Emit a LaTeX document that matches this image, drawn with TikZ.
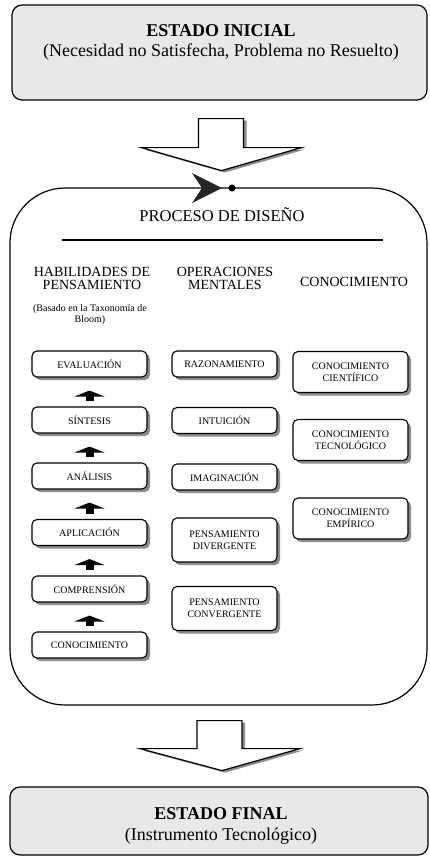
\documentclass[tikz,border=0pt]{standalone}
\usepackage{fontspec}
\setmainfont{Liberation Serif}
\usetikzlibrary{arrows.meta,shadows}

\begin{document}
\begin{tikzpicture}[x=1pt, y=1pt,
  estado/.style={draw, line width=1.2pt, rounded corners=10pt, fill=black!9},
  caja/.style={draw, line width=1.1pt, rounded corners=5pt, fill=white, align=center,
    inner sep=2pt, font=\fontsize{10}{12}\selectfont,
    drop shadow={shadow xshift=3pt, shadow yshift=-3pt, fill=black!45, opacity=1}},
  cajah/.style={caja, minimum width=115pt, minimum height=26pt},
  cajam/.style={caja, minimum width=105pt, minimum height=26pt},
  cajac/.style={caja, minimum width=115pt, minimum height=41pt},
  subir/.style={line width=8pt, -{Triangle[width=30pt,length=6pt]}, shorten <=5pt, shorten >=13pt},
  flecha/.style={draw, line width=1.2pt, fill=white},
  titulo/.style={font=\fontsize{14}{13.5}\selectfont, align=center}]

\useasboundingbox (0,0) rectangle (429,-857);

% estado inicial
\node[estado, minimum width=415pt, minimum height=95pt] (inicial) at (219.5,-52.5) {};
\node[font=\fontsize{18}{20}\selectfont, align=center] (inicial_text) at (221,-42)
  {\textbf{ESTADO INICIAL}\\(Necesidad no Satisfecha, Problema no Resuelto)};

% proceso de diseno
\node[draw, line width=1.2pt, rounded corners=55pt, minimum width=417pt, minimum height=517pt] (proceso) at (218.5,-446.5) {};
\fill[black!85] (192,-173) -- (222,-188) -- (192,-203) -- (202,-188) -- cycle;
\fill (232,-188) circle (3.5);
\node[font=\fontsize{16.5}{18}\selectfont] (proceso_text) at (222,-215) {PROCESO DE DISEÑO};
\draw[line width=1.6pt] (62,-240) -- (383,-240);

% flechas grandes
\fill[black!45, shift={(inicial.south)}, xshift=3pt, yshift=-2pt] (-21,-18) -- (24,-18) -- (24,-47) -- (82,-47) -- (2,-70) -- (-78,-47) -- (-21,-47) -- cycle;
\draw[flecha, shift={(inicial.south)}] (-21,-18) -- (24,-18) -- (24,-47) -- (82,-47) -- (2,-70) -- (-78,-47) -- (-21,-47) -- cycle;
\fill[black!45, shift={(proceso.south)}, xshift=3pt, yshift=-2pt] (-21.5,-15) -- (23.5,-15) -- (23.5,-43) -- (81.5,-43) -- (3.5,-65) -- (-78.5,-43) -- (-21.5,-43) -- cycle;
\draw[flecha, shift={(proceso.south)}] (-21.5,-15) -- (23.5,-15) -- (23.5,-43) -- (81.5,-43) -- (3.5,-65) -- (-78.5,-43) -- (-21.5,-43) -- cycle;

% columnas
\node[titulo] (habilidades) at (92,-278.5) {HABILIDADES DE\\PENSAMIENTO};
\node[titulo] (operaciones) at (225,-278.5) {OPERACIONES\\MENTALES};
\node[titulo] (conocimiento) at (354,-282) {CONOCIMIENTO};
\node[font=\fontsize{10}{11}\selectfont, align=center] (bloom) at (90,-314.5)
  {(Basado en la Taxonomía de\\Bloom)};

% habilidades
\node[cajah] (evaluacion) at (89.5,-364) {EVALUACIÓN};
\node[cajah] (sintesis) at (89.5,-420) {SÍNTESIS};
\node[cajah] (analisis) at (89.5,-476) {ANÁLISIS};
\node[cajah] (aplicacion) at (89.5,-532.5) {APLICACIÓN};
\node[cajah] (comprension) at (89.5,-589) {COMPRENSIÓN};
\node[cajah] (conocer) at (89.5,-645) {CONOCIMIENTO};
\draw[subir] (sintesis) -- (evaluacion);
\draw[subir] (analisis) -- (sintesis);
\draw[subir] (aplicacion) -- (analisis);
\draw[subir] (comprension) -- (aplicacion);
\draw[subir] (conocer) -- (comprension);

% operaciones
\node[cajam] (razonamiento) at (224.5,-364) {RAZONAMIENTO};
\node[cajam] (intuicion) at (224.5,-420.5) {INTUICIÓN};
\node[cajam] (imaginacion) at (224.5,-477) {IMAGINACIÓN};
\node[cajam, minimum height=44pt] (divergente) at (224.5,-540) {PENSAMIENTO\\DIVERGENTE};
\node[cajam, minimum height=44pt] (convergente) at (224.5,-608.5) {PENSAMIENTO\\CONVERGENTE};

% conocimiento
\node[cajac] (cientifico) at (350.5,-372) {CONOCIMIENTO\\CIENTÍFICO};
\node[cajac] (tecnologico) at (350.5,-440) {CONOCIMIENTO\\TECNOLÓGICO};
\node[cajac] (empirico) at (350.5,-518.5) {CONOCIMIENTO\\EMPÍRICO};

% estado final
\node[estado, minimum width=418pt, minimum height=68pt] (final) at (219,-821) {};
\node[font=\fontsize{18}{21}\selectfont, align=center] (final_text) at (221,-826)
  {\textbf{ESTADO FINAL}\\(Instrumento Tecnológico)};

\end{tikzpicture}
\end{document}
